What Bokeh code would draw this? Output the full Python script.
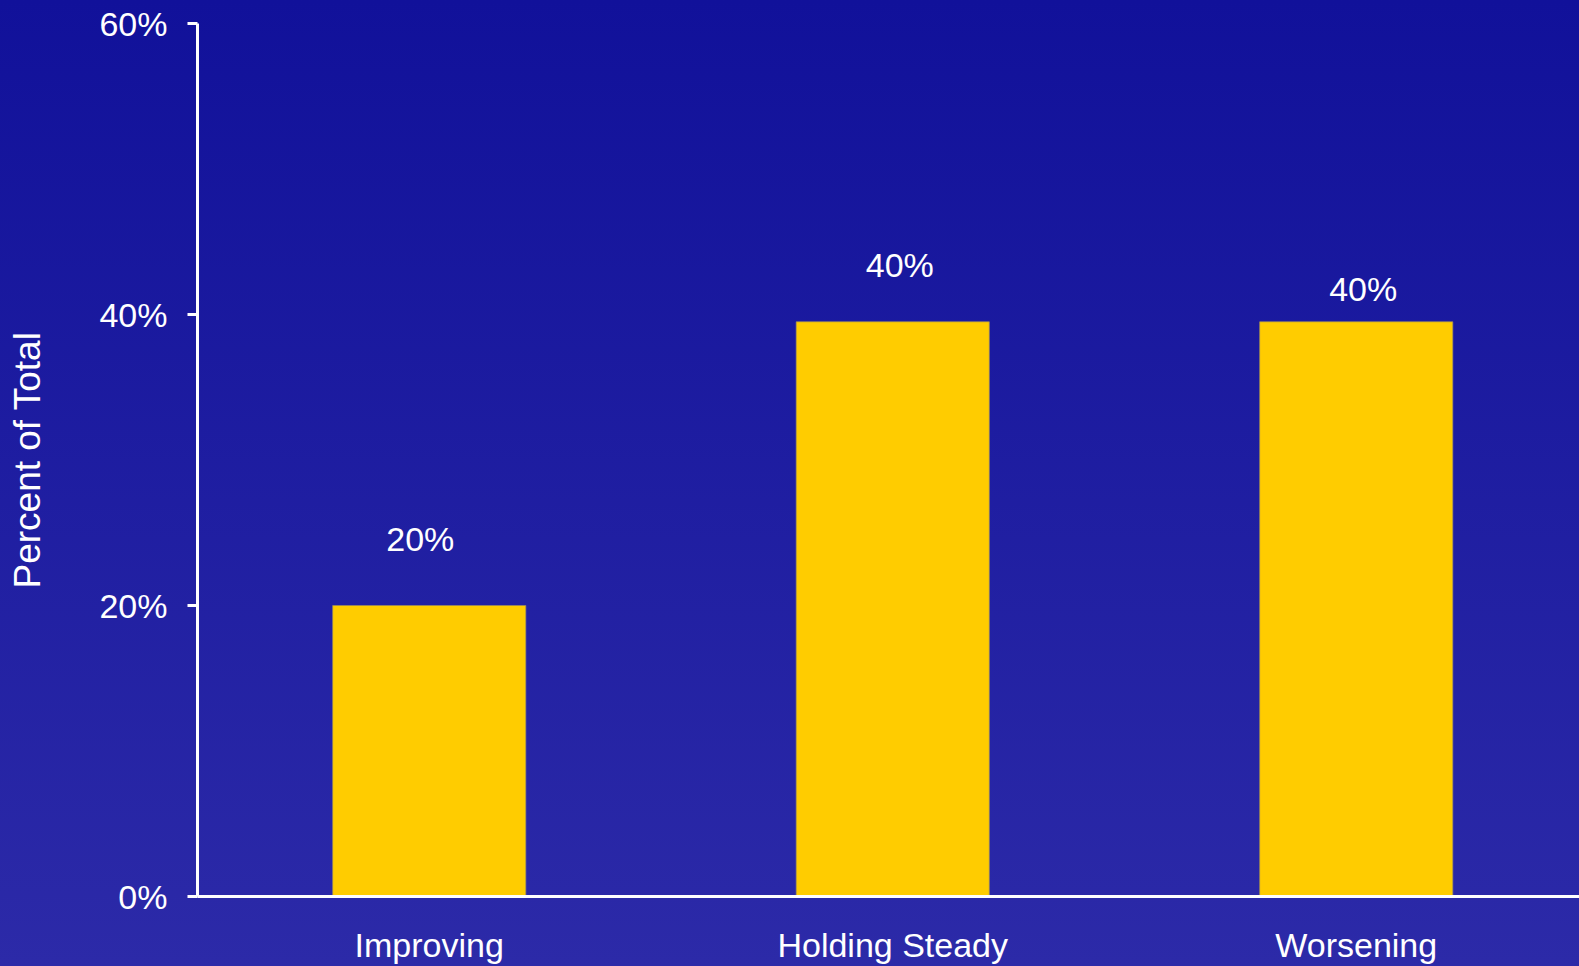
from bokeh.plotting import figure
from bokeh.models import ColumnDataSource, Range1d, FixedTicker, PrintfTickFormatter
from bokeh.core.properties import value
from bokeh.embed import file_html
from bokeh.resources import INLINE

# ---- data ----
categories = ["Improving", "Holding Steady", "Worsening"]
percent_values = [20.0, 39.5, 39.5]
value_labels = ["20%", "40%", "40%"]
y_ticks = [0, 20, 40, 60]

FONT = "Liberation Sans"

xs = [i + 0.5 for i in range(len(categories))]
src = ColumnDataSource(dict(
    x=xs,
    top=percent_values,
    label=value_labels,
    xoff=[-9, 7, 7],
    yoff=[-67, -57, -33],
))

p = figure(
    width=1579, height=966,
    x_range=Range1d(0, 2.9817), y_range=Range1d(0, 60),
    output_backend="svg", toolbar_location=None,
    min_border_left=197, min_border_top=23, min_border_bottom=68, min_border_right=0,
)
p.background_fill_alpha = 0
p.border_fill_alpha = 0
p.outline_line_color = None
p.xgrid.visible = False
p.ygrid.visible = False

p.vbar(x="x", top="top", bottom=0, width=0.4167, source=src,
       fill_color="#ffcc00", line_color="#9a8a60", line_width=1, line_alpha=0.7)

p.text(x="x", y="top", text="label", x_offset="xoff", y_offset="yoff", source=src,
       text_color="white", text_font=value(FONT), text_font_size="34px",
       text_align="center", text_baseline="middle")

# y axis
ya = p.yaxis[0]
ya.ticker = FixedTicker(ticks=y_ticks)
ya.formatter = PrintfTickFormatter(format="%d%%")
ya.axis_line_color = "white"
ya.axis_line_width = 3
ya.major_tick_line_color = "white"
ya.major_tick_line_width = 3
ya.major_tick_out = 10
ya.major_tick_in = 0
ya.minor_tick_line_color = None
ya.major_label_text_color = "white"
ya.major_label_text_font = FONT
ya.major_label_text_font_size = "34px"
ya.major_label_standoff = 20
ya.axis_label = "Percent of Total"
ya.axis_label_text_color = "white"
ya.axis_label_text_font = FONT
ya.axis_label_text_font_size = "37px"
ya.axis_label_text_font_style = "normal"
ya.axis_label_standoff = 48

# x axis
xa = p.xaxis[0]
xa.ticker = FixedTicker(ticks=xs)
xa.major_label_overrides = {x: c for x, c in zip(xs, categories)}
xa.axis_line_color = "white"
xa.axis_line_width = 3
xa.major_tick_line_color = None
xa.major_tick_out = 0
xa.major_tick_in = 0
xa.minor_tick_line_color = None
xa.major_label_text_color = "white"
xa.major_label_text_font = FONT
xa.major_label_text_font_size = "34px"
xa.major_label_text_line_height = 1.0
xa.major_label_standoff = 29

html = file_html(p, INLINE)
style = ("<style>html{min-height:100%;background:linear-gradient(to bottom,#11119a 0%,#2c2aa8 100%) fixed;}"
         "body{background:transparent;}</style>")
html = html.replace("</head>", style + "</head>", 1)
open("out.html", "w").write(html)
